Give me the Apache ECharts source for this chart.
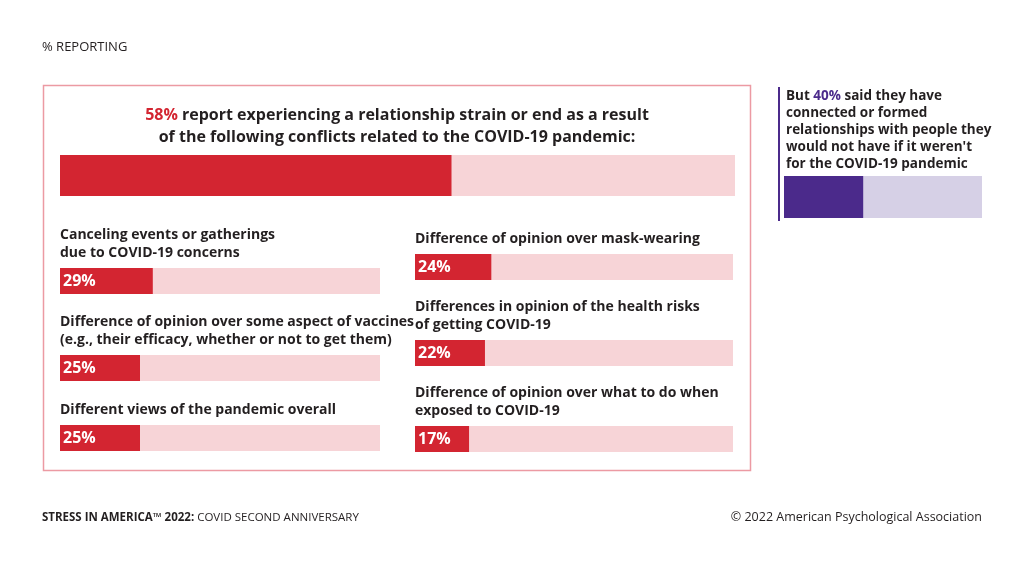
<!DOCTYPE html>
<html><head><meta charset="utf-8">
<script src="https://cdn.jsdelivr.net/npm/echarts@6/dist/echarts.min.js"></script>
<style>html,body{margin:0;padding:0;background:#fff}#c{width:1024px;height:565px}</style>
</head><body><div id="c"></div>
<script>
const headline = 58;
const otherPct = 40;
const leftCats = ["Canceling events or gatherings\ndue to COVID-19 concerns","Difference of opinion over some aspect of vaccines\n(e.g., their efficacy, whether or not to get them)","Different views of the pandemic overall"];
const leftVals = [29,25,25];
const rightCats = ["Difference of opinion over mask-wearing","Differences in opinion of the health risks\nof getting COVID-19","Difference of opinion over what to do when\nexposed to COVID-19"];
const rightVals = [24,22,17];

const RED='#d32531', PINK='#f7d4d7', PUR='#4b2a8b', LPUR='#d6d0e6';
const F='"Open Sans", Lato, sans-serif';
const grids=[], xs=[], ys=[], series=[];
function addBar(box, v, fg, bg, label){
  const i=grids.length;
  grids.push({left:box[0],top:box[1],width:box[2],height:box[3]});
  xs.push({gridIndex:i,type:'value',min:0,max:100,show:false});
  ys.push({gridIndex:i,type:'category',data:[''],show:false});
  series.push({type:'bar',xAxisIndex:i,yAxisIndex:i,data:[v],barWidth:'100%',
    itemStyle:{color:fg},showBackground:true,backgroundStyle:{color:bg},silent:true,
    label:{show:label,position:'insideLeft',offset:[-2,0],formatter:'{c}%',color:'#fff',fontFamily:F,fontWeight:'bold',fontSize:16}});
}
addBar([60,155,675,41],headline,RED,PINK,false);
addBar([784,176,198,42],otherPct,PUR,LPUR,false);
const lTop=[268,355,425], rTop=[254,340,426];
const texts=[];
leftVals.forEach((v,k)=>{addBar([60,lTop[k],320,26],v,RED,PINK,true);
  texts.push({type:'text',left:60,bottom:565-lTop[k]+6,style:{text:leftCats[k],font:'bold 14px '+F,fill:'#231f20',lineHeight:18}});});
rightVals.forEach((v,k)=>{addBar([415,rTop[k],318,26],v,RED,PINK,true);
  texts.push({type:'text',left:415,bottom:565-rTop[k]+6,style:{text:rightCats[k],font:'bold 14px '+F,fill:'#231f20',lineHeight:18}});});

const chart=echarts.init(document.getElementById('c'));
chart.setOption({animation:false,grid:grids,xAxis:xs,yAxis:ys,series:series,
graphic:[
 {type:'text',left:42,top:41,style:{text:'% REPORTING',font:'13px '+F,fill:'#231f20'}},
 {type:'rect',shape:{x:43.5,y:85.5,width:707,height:385},style:{fill:'none',stroke:'#ec9aa3',lineWidth:1.5}},
 {type:'text',x:397,y:104,style:{text:'{r|'+headline+'%} report experiencing a relationship strain or end as a result\nof the following conflicts related to the COVID-19 pandemic:',
   align:'center',font:'bold 16px '+F,fill:'#231f20',lineHeight:22,rich:{r:{fill:RED,font:'bold 16px '+F,lineHeight:22}}}},
 {type:'rect',shape:{x:778,y:87,width:2,height:134},style:{fill:PUR}},
 {type:'text',left:786,top:88,style:{text:'But {p|'+otherPct+'%} said they have\nconnected or formed\nrelationships with people they\nwould not have if it weren\'t\nfor the COVID-19 pandemic',
   font:'bold 13.5px '+F,fill:'#231f20',lineHeight:17,rich:{p:{fill:PUR,font:'bold 13.5px '+F}}}},
 {type:'text',left:42,top:512,style:{text:'{b|STRESS IN AMERICA™ 2022:} COVID SECOND ANNIVERSARY',font:'11.5px '+F,fill:'#231f20',rich:{b:{font:'bold 11.5px '+F}}}},
 {type:'text',right:42,top:511,style:{text:'© 2022 American Psychological Association',font:'12.5px '+F,fill:'#231f20'}},
 ...texts
]});
</script></body></html>
